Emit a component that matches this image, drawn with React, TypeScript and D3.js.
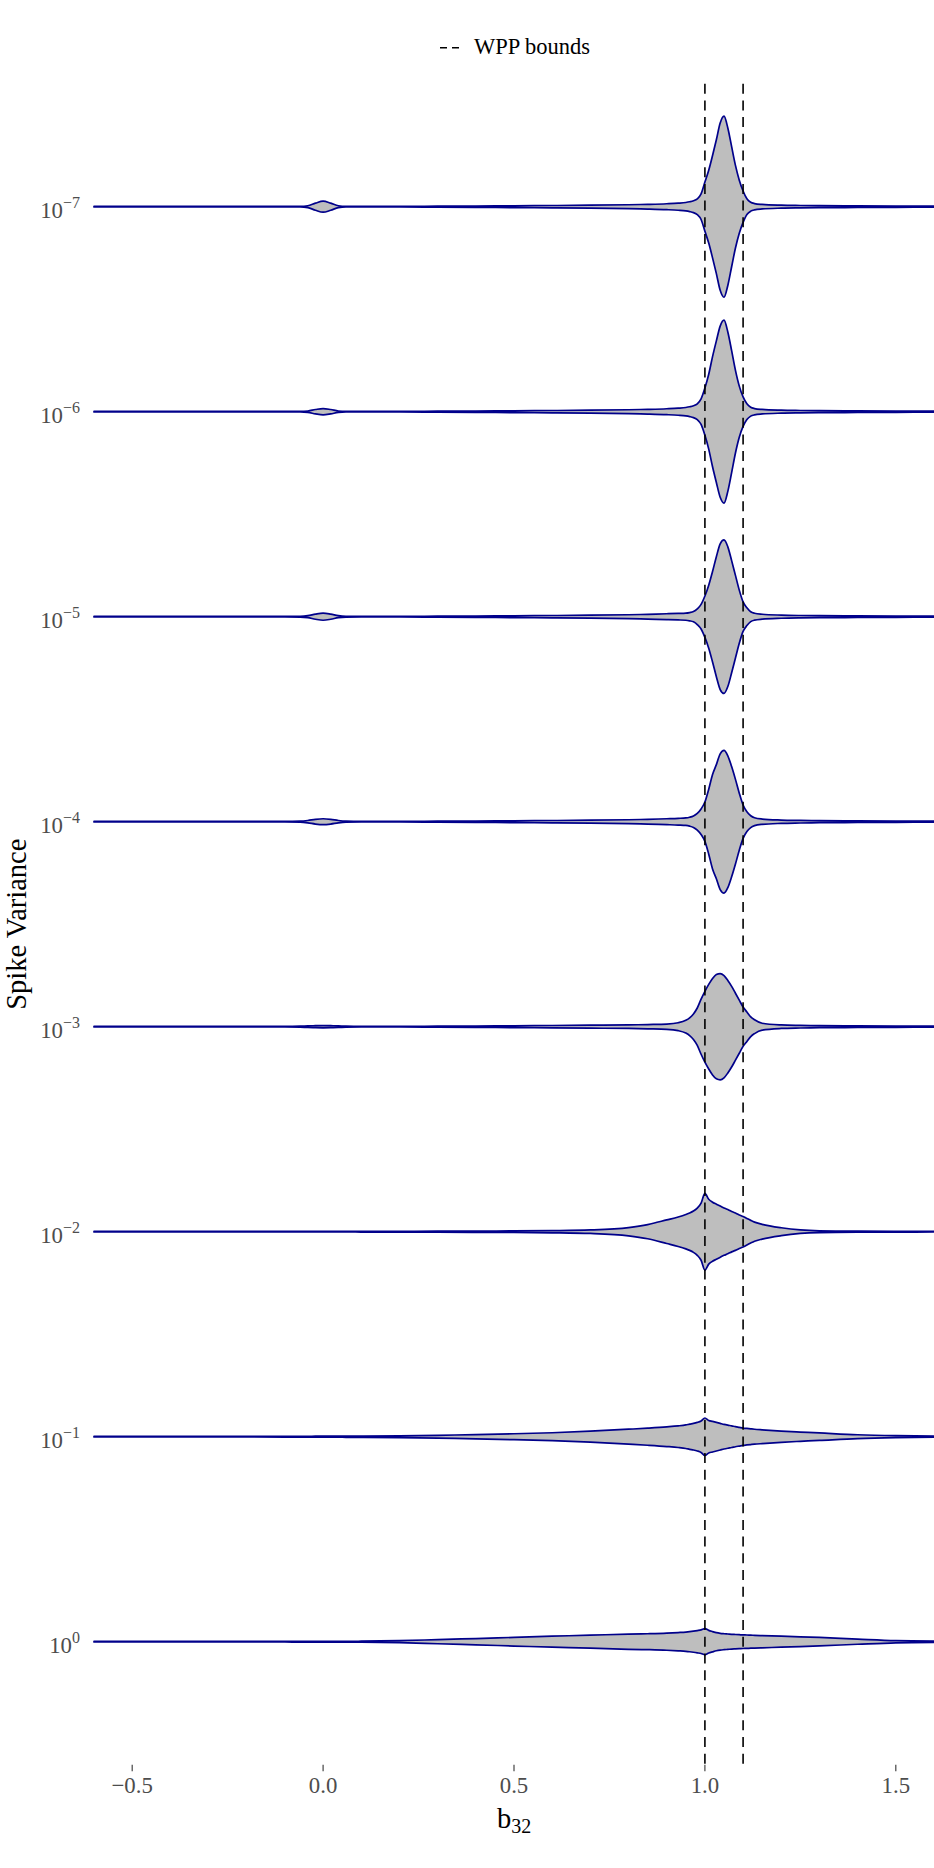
import React, { useEffect, useRef } from 'react';
import * as d3 from 'd3';

// b_32 positions at which the violin densities were read
const gridX = [
  -0.6, -0.4, -0.2, -0.1, -0.06, -0.04, -0.02, 0, 0.02, 0.04, 0.06, 0.1,
  0.2, 0.3, 0.4, 0.5, 0.6, 0.7, 0.8, 0.85, 0.9, 0.93, 0.95, 0.96,
  0.97, 0.98, 0.99, 1.0, 1.01, 1.02, 1.03, 1.04, 1.05, 1.06, 1.07, 1.08,
  1.09, 1.1, 1.11, 1.12, 1.13, 1.15, 1.2, 1.25, 1.3, 1.4, 1.5, 1.6,
];

// spike variance = 10^exponent, top to bottom
const exponents = [-7, -6, -5, -4, -3, -2, -1, 0];

// relative density (violin half-width) per spike variance
const dens1e7 = [0.3, 0.3, 0.3, 0.3, 0.3, 1.0, 3.6, 5.6, 3.6, 1.0, 0.3, 0.3, 0.3, 0.5, 0.7, 0.9, 1.2, 1.5, 2.0, 2.4, 3.0, 3.6, 4.3, 5.0, 6.0, 8.0, 13, 25, 37, 52, 68, 85, 92, 80, 61, 42, 27, 16, 8, 4.5, 3.2, 2.3, 1.5, 1.2, 1.0, 0.8, 0.6, 0.5];
const dens1e6 = [0.3, 0.3, 0.3, 0.3, 0.3, 0.7, 2.2, 3.2, 2.2, 0.7, 0.3, 0.3, 0.3, 0.5, 0.7, 0.9, 1.2, 1.5, 2.0, 2.4, 3.0, 3.6, 4.3, 5.0, 6.0, 8.0, 13, 24, 38, 56, 72, 87, 93, 81, 62, 42, 26, 15, 8, 4.5, 3.2, 2.3, 1.5, 1.2, 1.0, 0.8, 0.6, 0.5];
const dens1e5 = [0.3, 0.3, 0.3, 0.3, 0.4, 1.0, 2.6, 3.6, 2.6, 1.0, 0.4, 0.3, 0.3, 0.5, 0.7, 0.9, 1.2, 1.5, 2.0, 2.4, 3.0, 3.3, 3.6, 4.2, 5.2, 8.0, 12.5, 21, 32, 46, 61, 74, 78, 71, 57, 42, 27, 15, 9, 5, 3.5, 2.5, 1.6, 1.2, 1.0, 0.8, 0.6, 0.5];
const dens1e4 = [0.3, 0.3, 0.3, 0.3, 0.5, 1.2, 2.4, 3.0, 2.4, 1.2, 0.5, 0.3, 0.3, 0.5, 0.7, 0.9, 1.2, 1.5, 2.0, 2.4, 3.0, 3.4, 3.8, 4.5, 5.8, 8.5, 13, 20, 33, 48, 58, 69, 72.5, 67, 56, 43, 29, 17, 10, 6, 4, 2.7, 1.7, 1.3, 1.0, 0.8, 0.6, 0.5];
const dens1e3 = [0.3, 0.3, 0.3, 0.3, 0.5, 0.8, 1.0, 1.1, 1.0, 0.8, 0.5, 0.3, 0.3, 0.5, 0.7, 0.9, 1.2, 1.5, 1.8, 2.2, 2.7, 4.0, 6.5, 9, 13, 19, 28, 36, 43, 49, 53, 54, 52, 47, 41, 34, 27, 20, 15, 10, 7, 3.5, 1.8, 1.3, 1.0, 0.8, 0.6, 0.5];
const dens1e2 = [0.3, 0.3, 0.3, 0.3, 0.3, 0.3, 0.3, 0.3, 0.3, 0.3, 0.3, 0.35, 0.4, 0.5, 0.6, 0.8, 1.1, 1.8, 4.2, 7.2, 12, 15, 17.5, 19, 21, 24, 29, 39, 33, 30, 28, 26, 24, 22.5, 20.5, 19, 17, 15.5, 13.5, 11.5, 9.7, 7.5, 4, 1.8, 0.9, 0.5, 0.4, 0.3];
const dens1e1 = [0.3, 0.3, 0.3, 0.4, 0.4, 0.4, 0.5, 0.5, 0.5, 0.55, 0.6, 0.65, 0.85, 1.4, 2.2, 3.0, 4.0, 5.6, 7.6, 8.7, 10, 11, 12, 12.8, 13.5, 14.5, 16, 19, 16.5, 15.5, 14.5, 13.5, 12.5, 11.7, 11, 10.2, 9.5, 8.8, 8.4, 8, 7.6, 7, 5.7, 4.7, 3.8, 2, 1, 0.5];
const dens1e0 = [0.3, 0.3, 0.3, 0.3, 0.4, 0.4, 0.4, 0.4, 0.4, 0.4, 0.4, 0.5, 1.0, 2.1, 3.2, 4.4, 5.6, 6.6, 7.7, 8.1, 8.7, 9.3, 9.8, 10.2, 10.7, 11.3, 12, 13.3, 11.5, 10.3, 9.2, 8.5, 8.1, 7.8, 7.5, 7.3, 7.1, 6.9, 6.8, 6.6, 6.5, 6.2, 5.6, 5, 4.3, 2.6, 1.1, 0.7];

const densities = [dens1e7, dens1e6, dens1e5, dens1e4, dens1e3, dens1e2, dens1e1, dens1e0];

const xTicks = [-0.5, 0, 0.5, 1, 1.5];
const wppBounds = [1.0, 1.1];

const W = 934;
const H = 1868;
const serif = '"Liberation Serif", "Times New Roman", serif';

const App = () => {
  const svgRef = useRef<SVGSVGElement>(null);

  useEffect(() => {
    const panel = { left: 94, right: 934, top: 83.7, bottom: 1764.7 };

    const x = d3.scaleLinear().domain([-0.6, 1.6]).range([panel.left, panel.right]);
    const y = d3.scalePoint<number>()
      .domain(exponents)
      .range([panel.top, panel.bottom])
      .padding(0.6);
    const halfW = d3.scaleLinear().domain([0, 100]).range([0, y.step() * 0.48]);

    const svg = d3.select(svgRef.current);
    svg.selectAll('*').remove();

    // violins
    const g = svg.append('g');
    exponents.forEach((e, i) => {
      const yc = y(e) as number;
      const pts = gridX.map((bx, j) => ({ bx, v: densities[i][j] }));
      const area = d3.area<{ bx: number; v: number }>()
        .x(d => x(d.bx))
        .y0(d => yc + halfW(d.v))
        .y1(d => yc - halfW(d.v))
        .curve(d3.curveMonotoneX);
      g.append('path')
        .datum(pts)
        .attr('d', area)
        .attr('fill', '#BEBEBE')
        .attr('stroke', '#00008B')
        .attr('stroke-width', 1.7)
        .attr('stroke-linejoin', 'round');
    });

    // WPP bounds
    svg.append('g')
      .selectAll('line')
      .data(wppBounds)
      .enter().append('line')
      .attr('x1', d => x(d))
      .attr('x2', d => x(d))
      .attr('y1', panel.top)
      .attr('y2', panel.bottom)
      .attr('stroke', '#000')
      .attr('stroke-width', 1.6)
      .attr('stroke-dasharray', '10 6.7');

    // x axis
    const fmt = d3.format('.1f');
    const xa = svg.append('g');
    xa.selectAll('line')
      .data(xTicks)
      .enter().append('line')
      .attr('x1', d => x(d))
      .attr('x2', d => x(d))
      .attr('y1', panel.bottom)
      .attr('y2', panel.bottom + 6.5)
      .attr('stroke', '#333333')
      .attr('stroke-width', 1.1);
    xa.selectAll('text')
      .data(xTicks)
      .enter().append('text')
      .attr('x', d => x(d))
      .attr('y', 1793)
      .attr('text-anchor', 'middle')
      .attr('font-family', serif)
      .attr('font-size', 22.8)
      .attr('fill', '#4D4D4D')
      .text(d => fmt(d));

    const xt = svg.append('text')
      .attr('x', (panel.left + panel.right) / 2)
      .attr('y', 1828)
      .attr('text-anchor', 'middle')
      .attr('font-family', serif)
      .attr('font-size', 28.5)
      .attr('fill', '#000');
    xt.append('tspan').text('b');
    xt.append('tspan').attr('font-size', 20).attr('dy', 5).text('32');

    // y axis labels
    exponents.forEach(e => {
      const t = svg.append('text')
        .attr('x', 80)
        .attr('y', (y(e) as number) + 11)
        .attr('text-anchor', 'end')
        .attr('font-family', serif)
        .attr('font-size', 22.8)
        .attr('fill', '#4D4D4D');
      t.append('tspan').text('10');
      t.append('tspan')
        .attr('font-size', 16)
        .attr('dy', -10)
        .text(e < 0 ? `\u2212${-e}` : `${e}`);
    });

    svg.append('text')
      .attr('transform', `translate(25.5,${(panel.top + panel.bottom) / 2}) rotate(-90)`)
      .attr('text-anchor', 'middle')
      .attr('font-family', serif)
      .attr('font-size', 28.5)
      .attr('fill', '#000')
      .text('Spike Variance');

    // legend
    const lg = svg.append('g');
    lg.append('line')
      .attr('x1', 440)
      .attr('x2', 459)
      .attr('y1', 47.7)
      .attr('y2', 47.7)
      .attr('stroke', '#000')
      .attr('stroke-width', 1.6)
      .attr('stroke-dasharray', '7 5');
    lg.append('text')
      .attr('x', 474)
      .attr('y', 54.3)
      .attr('font-family', serif)
      .attr('font-size', 22.5)
      .attr('fill', '#000')
      .text('WPP bounds');
  }, []);

  return (
    <svg
      ref={svgRef}
      width={W}
      height={H}
      style={{ position: 'absolute', left: 0, top: 0, background: '#fff' }}
    />
  );
};

export default App;
